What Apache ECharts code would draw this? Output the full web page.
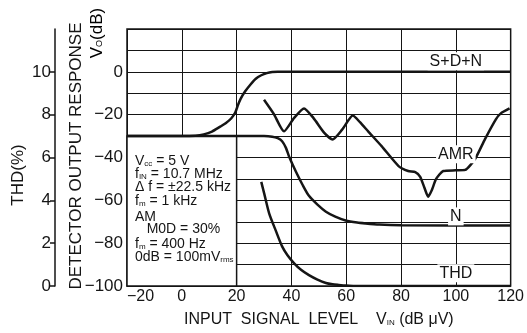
<!DOCTYPE html>
<html>
<head>
<meta charset="utf-8">
<script src="https://cdn.jsdelivr.net/npm/echarts@6/dist/echarts.min.js"></script>
<style>
  html, body { margin: 0; background: #fff; }
  #main { width: 527px; height: 333px; }
</style>
</head>
<body>
<div id="main"></div>
<script>
// tick labels
const xTicks = [-20, 0, 20, 40, 60, 80, 100, 120];
const dbTicks = [0, -20, -40, -60, -80, -100];
const thdTicks = [0, 2, 4, 6, 8, 10];

// S+D+N (dB)
const sdnX = [-20, 0, 5, 8, 11, 14, 16, 18, 19.5, 20.5, 21.5, 23, 25, 27, 29, 31, 33, 35, 120];
const sdnY = [-30, -30, -29.8, -29.2, -27.9, -25.6, -24, -21.8, -19, -15.5, -12.5, -9.3, -6, -3.2, -1.6, -0.6, -0.1, 0, 0];

// N (dB)
const nX = [-20, 25, 30, 33, 35, 36.6, 38, 39.1, 41.7, 44, 46.4, 49.5, 52.6, 56, 59.8, 64, 67, 72, 80, 120];
const nY = [-30, -30, -30, -30.3, -31, -32.4, -35.5, -39.4, -46.8, -52.6, -57.9, -62, -65.3, -67.6, -69.4, -70.4, -70.8, -71.3, -71.6, -71.8];

// AMR (dB)
const amrX = [30, 33.5, 37.3, 41, 44.6, 48, 52, 55, 58.5, 62.4, 65, 68, 72.9, 79.1, 82.6, 85.2, 87, 88.5, 89.9, 91.3, 92.8, 95.4, 100, 103.4, 107, 110.6, 114.6, 116.4, 119.6];
const amrY = [-13, -19.5, -27.8, -21.5, -17.1, -21.5, -28.5, -31.6, -27, -20.4, -23.5, -27.8, -34.7, -44, -46.3, -46.8, -49, -54, -58.3, -55, -50, -46.3, -46, -45.8, -40.7, -31.5, -22.2, -19.4, -17.1];

// THD (%)
const thdX = [29, 30.1, 31.9, 34.4, 36.6, 38.5, 41, 43.5, 46.4, 49.5, 52.6, 55, 57.3, 60, 63, 120];
const thdY = [4.86, 4.3, 3.38, 2.55, 1.85, 1.45, 1.06, 0.76, 0.51, 0.3, 0.14, 0.08, 0.05, 0.02, 0, 0];

const zip = (xs, ys) => xs.map((x, i) => [x, ys[i]]);

const FONT = 'Liberation Sans, Arial, sans-serif';
const INK = '#151515';

const chart = echarts.init(document.getElementById('main'));

const curveLabel = (name, coord) => ({
    symbol: 'rect',
    symbolSize: 0,
    silent: true,
    label: {
        show: true,
        position: 'inside',
        formatter: name,
        color: INK,
        fontFamily: FONT,
        fontSize: 16,
        backgroundColor: '#fff',
        padding: [1, 2]
    },
    data: [{ coord: coord }]
});

const lineSeries = (name, data, extra) => Object.assign({
    name: name,
    type: 'line',
    data: data,
    showSymbol: false,
    smooth: 0.25,
    lineStyle: { color: INK, width: 2.5 },
    z: 3
}, extra || {});

const sub = { fontSize: 8, fontFamily: FONT, color: INK, padding: [5, 0, 0, 0] };
const txt = { fontSize: 14, fontFamily: FONT, color: INK };
const boxLine = (y, s) => ({
    type: 'text', left: 135, top: y,
    style: { text: s, rich: { t: txt, s: sub }, font: '14px ' + FONT, fill: INK },
    z: 10
});

chart.setOption({
    backgroundColor: '#fff',
    animation: false,
    grid: { left: 127, right: 14, top: 29, bottom: 45, show: true, borderColor: INK, borderWidth: 1.5 },
    xAxis: {
        type: 'value',
        min: -20, max: 120, interval: 20,
        axisLine: { show: false },
        axisTick: { show: false },
        splitLine: { show: true, lineStyle: { color: INK, width: 1 } },
        axisLabel: {
            color: INK, fontFamily: FONT, fontSize: 16, margin: 3,
            alignMinLabel: 'left',
            formatter: v => xTicks.includes(v) ? String(v).replace('-', '\u2212') : ''
        },
        name: '{a|INPUT  SIGNAL  LEVEL    V}{s|IN}{a| (dB \u03bcV)}',
        nameLocation: 'middle',
        nameGap: 26,
        nameTextStyle: {
            rich: {
                a: { fontSize: 16, fontFamily: FONT, color: INK },
                s: { fontSize: 8, fontFamily: FONT, color: INK, padding: [6, 0, 0, 0] }
            }
        }
    },
    yAxis: [
        {
            type: 'value',
            min: -100, max: 20, interval: 10,
            axisLine: { show: false },
            axisTick: { show: false },
            splitLine: { show: true, lineStyle: { color: INK, width: 1 } },
            axisLabel: {
                color: INK, fontFamily: FONT, fontSize: 17, margin: 4,
                formatter: v => dbTicks.includes(v) ? (v < 0 ? '\u2212' + (-v) : String(v)) : ''
            }
        },
        {
            type: 'value',
            position: 'left',
            offset: 72,
            min: 0, max: 12, interval: 2,
            axisLine: { show: true, lineStyle: { color: INK, width: 1.5 } },
            axisTick: { show: true, length: 5, customValues: thdTicks, lineStyle: { color: INK, width: 1.5 } },
            splitLine: { show: false },
            axisLabel: {
                color: INK, fontFamily: FONT, fontSize: 17, margin: 4,
                formatter: v => thdTicks.includes(v) ? String(v) : ''
            }
        }
    ],
    series: [
        lineSeries('S+D+N', zip(sdnX, sdnY), {
            markArea: {
                silent: true,
                itemStyle: { color: '#fff', borderColor: INK, borderWidth: 1.5 },
                data: [[{ coord: [-20, -30] }, { coord: [20, -100] }]]
            },
            markPoint: curveLabel('S+D+N', [100, 5])
        }),
        lineSeries('N', zip(nX, nY), { markPoint: curveLabel('N', [100, -67.5]) }),
        lineSeries('AMR', zip(amrX, amrY), { smooth: 0.2, markPoint: curveLabel('AMR', [100, -38.5]) }),
        lineSeries('THD', zip(thdX, thdY), { yAxisIndex: 1, markPoint: curveLabel('THD', [100, 0.6]) })
    ],
    graphic: [
        {
            type: 'text', x: 18, y: 175, rotation: Math.PI / 2,
            style: { text: 'THD(%)', font: '17px ' + FONT, fill: INK, align: 'center', verticalAlign: 'middle' }
        },
        {
            type: 'text', x: 76, y: 156, rotation: Math.PI / 2,
            style: { text: 'DETECTOR OUTPUT RESPONSE', font: '17px ' + FONT, fill: INK, align: 'center', verticalAlign: 'middle' }
        },
        {
            type: 'text', x: 97, y: 33, rotation: Math.PI / 2,
            style: {
                text: '{t|V}{s|O}{t|(dB)}', align: 'center', verticalAlign: 'middle',
                rich: { t: { fontSize: 17, fontFamily: FONT, color: INK }, s: { fontSize: 9, fontFamily: FONT, color: INK, padding: [6, 0, 0, 0] } }
            }
        },
        boxLine(154, '{t|V}{s|cc}{t| = 5 V}'),
        boxLine(167, '{t|f}{s|IN}{t| = 10.7 MHz}'),
        boxLine(180, '{t|\u0394 f = \u00b122.5 kHz}'),
        boxLine(194, '{t|f}{s|m}{t| = 1 kHz}'),
        boxLine(210, '{t|AM}'),
        boxLine(222, '{t|   M0D = 30%}'),
        boxLine(237, '{t|f}{s|m}{t| = 400 Hz}'),
        boxLine(250, '{t|0dB = 100mV}{s|rms}')
    ]
});
</script>
</body>
</html>
